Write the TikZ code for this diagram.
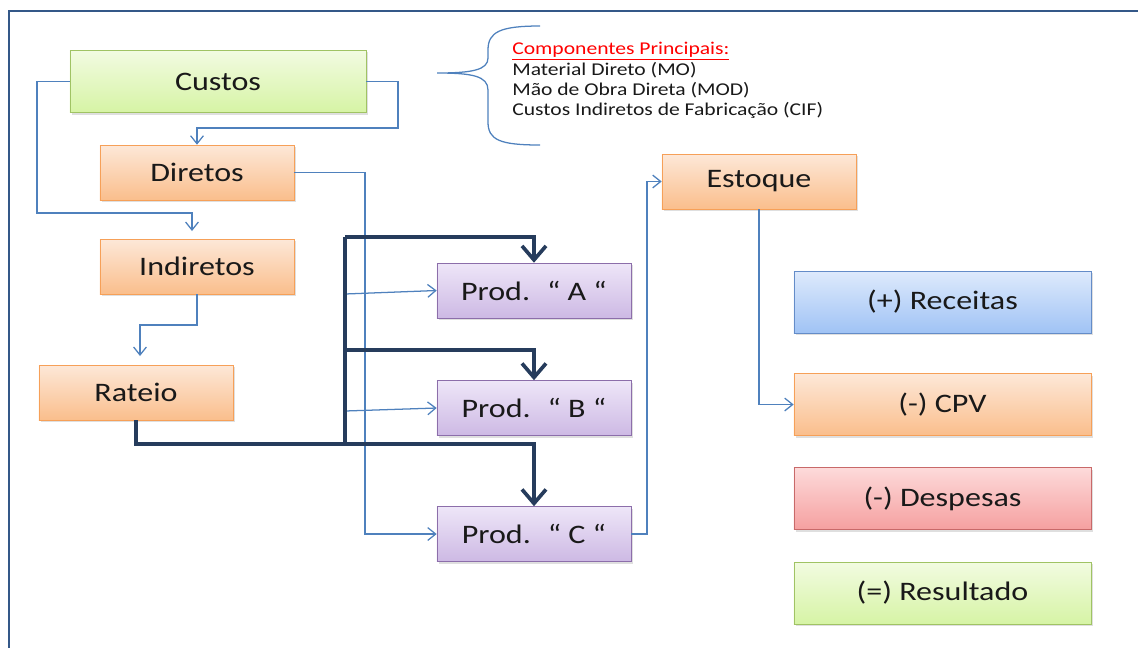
\documentclass[tikz,border=0pt]{standalone}
\usepackage{fontspec}
\setmainfont{Carlito}[FakeStretch=1.2]
\usepackage{xcolor}
\usetikzlibrary{arrows.meta, shadows}
\definecolor{linkblue}{RGB}{79,129,189}
\definecolor{busnavy}{RGB}{38,60,92}
\definecolor{framenavy}{RGB}{52,88,136}
\tikzstyle{box} = [rectangle, text centered, text=black!90, font=\fontsize{19}{22}\selectfont, drop shadow={opacity=0.25, shadow xshift=0.04cm, shadow yshift=-0.05cm}]
\tikzstyle{green} = [box, minimum width=7.4cm, minimum height=1.55cm, draw={rgb,255:red,160;green,195;blue,100}, top color={rgb,255:red,242;green,251;blue,225}, bottom color={rgb,255:red,214;green,244;blue,165}]
\tikzstyle{orange} = [box, minimum width=4.85cm, minimum height=1.375cm, draw={rgb,255:red,246;green,160;blue,88}, top color={rgb,255:red,253;green,232;blue,216}, bottom color={rgb,255:red,250;green,190;blue,140}]
\tikzstyle{purple} = [box, minimum width=4.85cm, minimum height=1.375cm, draw={rgb,255:red,140;green,110;blue,170}, top color={rgb,255:red,238;green,230;blue,248}, bottom color={rgb,255:red,205;green,185;blue,228}]
\tikzstyle{blue} = [box, minimum width=7.425cm, minimum height=1.55cm, draw={rgb,255:red,100;green,140;blue,200}, top color={rgb,255:red,222;green,234;blue,252}, bottom color={rgb,255:red,160;green,195;blue,245}]
\tikzstyle{red} = [box, minimum width=7.425cm, minimum height=1.55cm, draw={rgb,255:red,200;green,105;blue,105}, top color={rgb,255:red,253;green,218;blue,218}, bottom color={rgb,255:red,245;green,160;blue,160}]
\tikzstyle{wide} = [minimum width=7.425cm, minimum height=1.55cm]
\tikzstyle{arrow} = [linkblue, line width=0.9pt, -{Straight Barb[length=0.2cm, width=0.32cm]}]
\tikzstyle{bus} = [busnavy, line width=2.6pt]
\tikzstyle{busarrow} = [bus, -{Straight Barb[length=0.35cm, width=0.6cm]}]

\begin{document}
\begin{tikzpicture}[x=0.025cm, y=-0.025cm]
\useasboundingbox (0,0) rectangle (1138,647);
\clip (0,0) rectangle (1138,647);
\draw [framenavy, line width=2pt] (9,660) -- (9,11) -- (1150,11);

\node (custos) [green] at (218,81.5) {Custos};
\node (diretos) [orange] at (197,172.5) {Diretos};
\node (indiretos) [orange] at (197,266.5) {Indiretos};
\node (rateio) [orange] at (136,392.5) {Rateio};
\node (proda) [purple] at (534,290.5) {Prod.~ “ A “};
\node (prodb) [purple] at (534,408) {Prod.~ “ B “};
\node (prodc) [purple] at (534,534) {Prod.~ “ C “};
\node (estoque) [orange] at (759,181.5) {Estoque};
\node (receitas) [blue] at (942.5,302) {(+) Receitas};
\node (cpv) [orange, wide] at (942.5,404.5) {(-) CPV};
\node (despesas) [red] at (942.5,498.5) {(-) Despesas};
\node (resultado) [green, wide] at (942.5,593) {(=) Resultado};

\draw [linkblue, line width=0.9pt] (540,26) .. controls (500,26) and (488,32) .. (488,50) -- (488,58) .. controls (488,70) and (472,73) .. (437,73) .. controls (472,73) and (488,76) .. (488,90) -- (488,122) .. controls (488,140) and (500,145) .. (540,145);
\node (comp) [anchor=north west, align=left, inner sep=0pt, font=\fontsize{12.8}{14.5}\selectfont, text=black!90] at (512,42) {\textcolor{red}{\underline{Componentes Principais:}}\\Material Direto (MO)\\Mão de Obra Direta (MOD)\\Custos Indiretos de Fabricação (CIF)};

\coordinate (bustop) at (345,237);
\coordinate (busmid) at (345,350);
\coordinate (busbot) at (345,444);

\draw [arrow] (custos.east) -- (398,81.5) |- (197,128) -- (diretos.north);
\draw [arrow] (custos.west) -- (37,81.5) |- (192,213) -- (192,231);
\draw [arrow] (indiretos.south) -- (197,325) -| (140,356);
\draw [arrow] (diretos.east) -- (365,172.5) |- (prodc.west);
\draw [arrow] (345,294) -- (proda.west);
\draw [arrow] (345,411) -- (prodb.west);
\draw [arrow] (prodc.east) -- (647,534) |- (estoque.west);
\draw [arrow] (estoque.south) |- (cpv.west);

\draw [bus] (rateio.south) |- (busbot) -- (bustop);
\draw [busarrow] (bustop) -| (proda.north);
\draw [busarrow] (busmid) -| (prodb.north);
\draw [busarrow] (busbot) -| (prodc.north);
\end{tikzpicture}
\end{document}
